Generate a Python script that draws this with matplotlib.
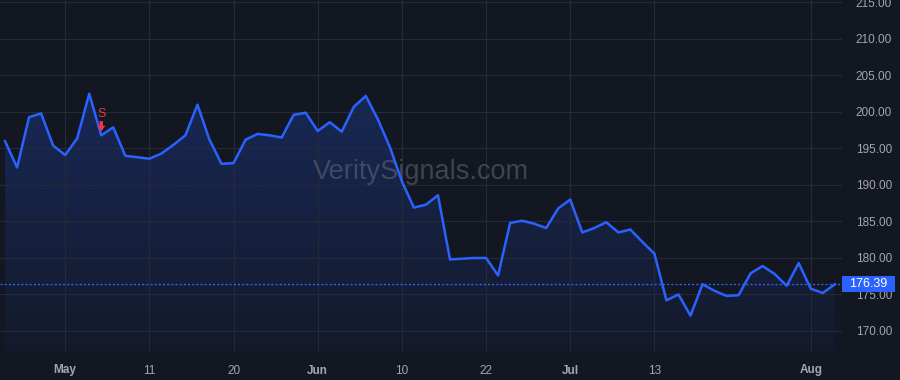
import numpy as np
import matplotlib
matplotlib.use('Agg')
import matplotlib.pyplot as plt
from matplotlib.patches import Polygon, Rectangle

# closing prices, one per trading session
prices = [196.0, 192.4, 199.3, 199.8, 195.4, 194.1, 196.4, 202.5, 196.8, 197.9,
          194.0, 193.8, 193.6, 194.3, 195.5, 196.8, 201.0, 196.2, 192.9, 193.0,
          196.2, 197.0, 196.8, 196.5, 199.6, 199.9, 197.4, 198.6, 197.3, 200.7,
          202.2, 199.0, 195.2, 190.5, 186.9, 187.3, 188.6, 179.8, 179.9, 180.0,
          180.0, 177.6, 184.8, 185.1, 184.7, 184.1, 186.8, 188.0, 183.5, 184.1,
          184.9, 183.5, 183.9, 182.2, 180.6, 174.2, 175.0, 172.1, 176.4, 175.5,
          174.8, 174.9, 177.9, 178.9, 177.8, 176.2, 179.3, 175.8, 175.2, 176.39]
last_price = 176.39

tick_idx = [5, 12, 19, 26, 33, 40, 47, 54, 67]
tick_labels = ['May', '11', '20', 'Jun', '10', '22', 'Jul', '13', 'Aug']
bold_labels = ['May', 'Jun', 'Jul', 'Aug']

y_ticks = [170, 175, 180, 185, 190, 195, 200, 205, 210, 215]

sell_idx = [8]

bg = '#131722'
grid_c = '#252a36'
line_c = '#2962ff'
text_c = '#a3a6af'
sell_c = '#f23645'

plt.rcParams['font.family'] = ['Liberation Sans', 'DejaVu Sans']

fig = plt.figure(figsize=(9, 3.8), dpi=100, facecolor=bg)
ax = fig.add_axes([0, 28 / 380, 842 / 900, 352 / 380], facecolor=bg)

x = np.arange(len(prices))
ax.set_xlim(-0.42, 69.6)
ax.set_ylim(167.12, 215.34)

# gradient fill under the line
ymin, ymax = ax.get_ylim()
verts = [(x[0], ymin)] + list(zip(x, prices)) + [(x[-1], ymin)]
poly = Polygon(verts, closed=True, facecolor='none', edgecolor='none')
ax.add_patch(poly)
grad = np.linspace(0.04, 0.24, 256).reshape(-1, 1)
rgba = np.zeros((256, 1, 4))
rgba[..., 0] = 41 / 255
rgba[..., 1] = 98 / 255
rgba[..., 2] = 1.0
rgba[..., 3] = grad
im = ax.imshow(rgba, extent=[x[0], x[-1], ymin, 203], origin='lower',
               aspect='auto', zorder=1, interpolation='bicubic')
im.set_clip_path(poly)

ax.plot(x, prices, color=line_c, lw=1.8, zorder=3, solid_joinstyle='round')

# last price line
ax.axhline(last_price, color=line_c, lw=1, ls=(0, (1.5, 1.5)), zorder=2)

# grid
ax.set_xticks(tick_idx)
ax.set_yticks(y_ticks)
ax.grid(True, color=grid_c, lw=0.8, zorder=0)
for s in ax.spines.values():
    s.set_visible(False)

ax.set_xticklabels(tick_labels)
for lab in ax.get_xticklabels():
    lab.set_color(text_c)
    lab.set_fontsize(8.5)
    if lab.get_text() in bold_labels:
        lab.set_fontweight('bold')
ax.tick_params(axis='x', length=0, pad=9)

ax.yaxis.tick_right()
ax.set_yticklabels(['%.2f' % v for v in y_ticks])
ax.tick_params(axis='y', length=0, pad=10, labelsize=8.5, labelcolor=text_c)

# sell signal
for i in sell_idx:
    ax.annotate('', xy=(i, prices[i] + 0.55), xytext=(i, prices[i] + 1.95),
                arrowprops=dict(arrowstyle='simple,head_width=0.6,head_length=0.4,tail_width=0.25',
                                color=sell_c, lw=0, mutation_scale=10,
                                shrinkA=0, shrinkB=0), zorder=4)
    ax.text(i, prices[i] + 2.95, 'S', color=sell_c, fontsize=9,
            ha='center', va='center', zorder=4)

# watermark
ax.text(0.5, 0.512, 'VeritySignals.com', transform=ax.transAxes, ha='center',
        va='center', fontsize=19.5, color='#5d6270', alpha=0.6, zorder=2)

# last price tag
yfig = fig.transFigure.inverted().transform(ax.transData.transform((0, last_price)))[1]
fig.patches.append(Rectangle((842 / 900, yfig - 8 / 380), 53 / 900, 16 / 380,
                             transform=fig.transFigure, fc=line_c, ec='none', zorder=5))
fig.text(868.5 / 900, yfig, '176.39', ha='center', va='center', fontsize=9,
         color='white', zorder=6)

fig.savefig('out.png', dpi=100, facecolor=bg)
